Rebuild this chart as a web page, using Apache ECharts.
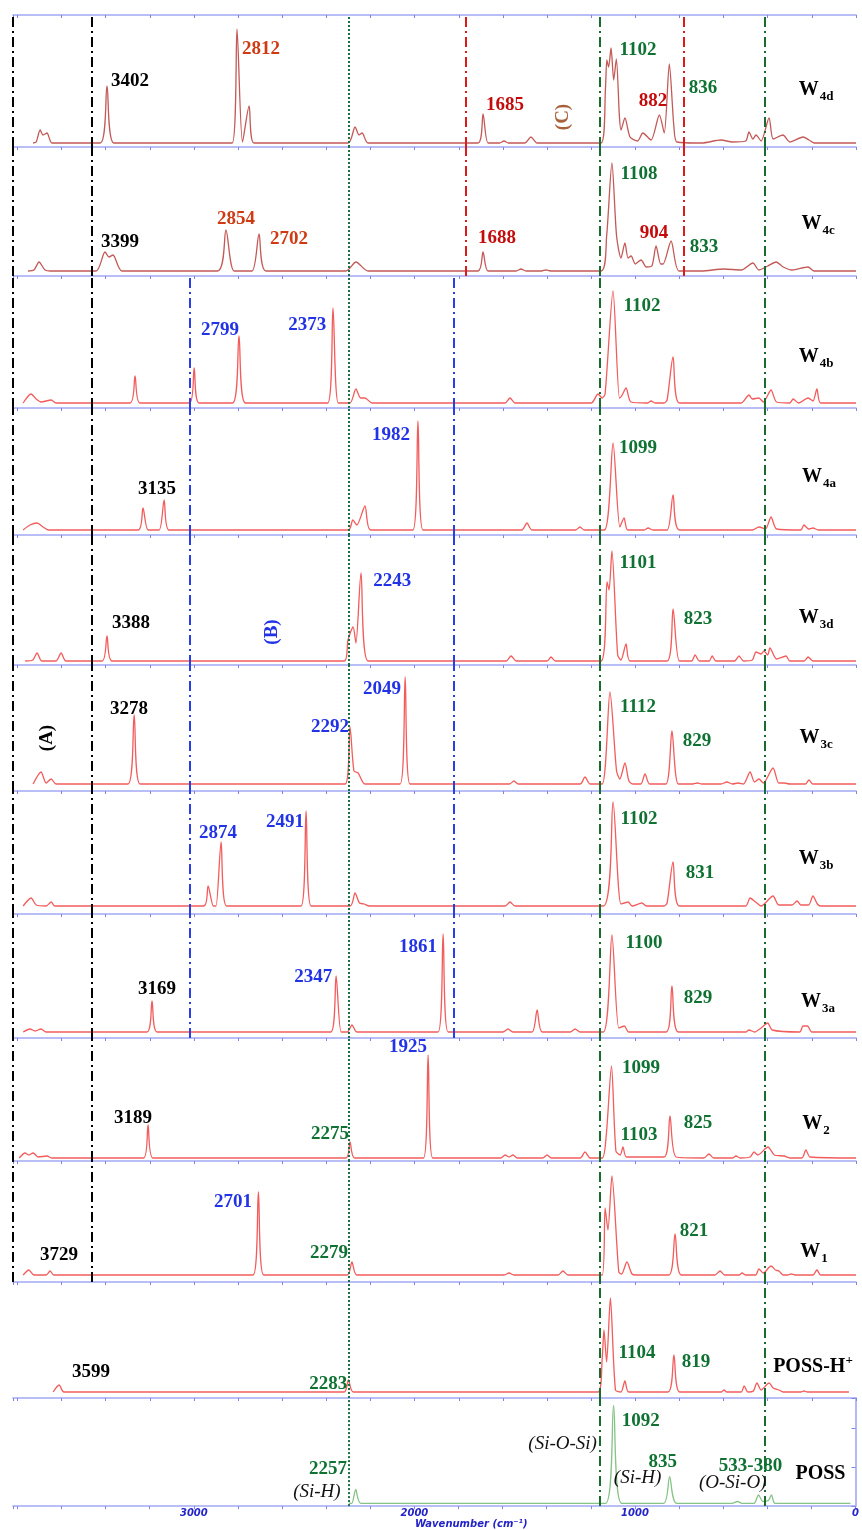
<!DOCTYPE html>
<html><head><meta charset="utf-8">
<script src="https://cdn.jsdelivr.net/npm/echarts@6.0.0/dist/echarts.min.js"></script>
<style>html,body{margin:0;padding:0;background:#fff}#c{width:862px;height:1530px}</style>
</head><body><div id="c"></div>
<script>
// ---------------- DATA ----------------
const panelNames = [
  {main:'W', sub:'4d'}, {main:'W', sub:'4c'}, {main:'W', sub:'4b'}, {main:'W', sub:'4a'},
  {main:'W', sub:'3d'}, {main:'W', sub:'3c'}, {main:'W', sub:'3b'}, {main:'W', sub:'3a'},
  {main:'W', sub:'2'}, {main:'W', sub:'1'}, {main:'POSS-H', sup:'+'}, {main:'POSS'}
];
const namePos = [[181,57],[172,52],[181,51],[168,58],[181,47],[181,53],[181,55],[172,36],[181,37],[190,30],[195,31],[159,35]];

const tickLabels = [0, 1000, 2000, 3000];

// spectra: [wavenumber (cm-1), intensity]
const W4d = [[3729,4],[3715,5],[3697,17],[3684,12],[3666,14],[3643,4],
 [3425,4],[3394,61],[3362,4],
 [2827,4],[2805,118],[2780,5],[2750,41],[2728,4],
 [2302,4],[2270,20],[2252,12],[2238,14],[2211,4],
 [1713,4],[1690,33],[1667,4],[1615,4],[1595,6],[1575,4],[1500,4],[1473,10],[1445,4],
 [1155,4],[1135,60],[1129,87],[1121,80],[1110,99],[1098,67],[1086,88],[1072,30],[1065,17],[1047,29],[1024,10],[990,6],[966,14],[929,7],[891,32],[869,14],[846,83],[825,20],[811,5],
 [700,4],[612,7],[560,5],[500,6],[485,15],[467,8],[453,12],[430,6],[394,29],[375,8],[331,12],[300,5],[240,10],[213,7],[190,4],[0,4]];
const W4c = [[3752,5],[3725,6],[3702,14],[3675,6],[3650,5],
 [3444,5],[3403,24],[3385,19],[3367,21],[3326,5],
 [2893,5],[2855,46],[2818,5],[2737,5],[2705,42],[2673,5],
 [2311,5],[2266,14],[2211,5],
 [1713,5],[1690,24],[1667,5],[1540,5],[1518,7],[1495,5],[1425,5],[1405,6],[1385,5],
 [1155,5],[1130,40],[1106,113],[1085,40],[1065,18],[1047,33],[1033,18],[1019,20],[1000,12],[974,16],[950,9],[925,10],[906,30],[885,12],[874,12],[838,35],[802,5],
 [700,5],[600,7],[520,6],[467,13],[440,6],[400,10],[362,14],[330,9],[290,6],[217,9],[190,5],[0,5]];
const W4b = [[3774,5],[3738,14],[3715,9],[3693,6],[3647,8],[3625,5],
 [3290,5],[3267,32],[3244,5],[3020,5],[2999,40],[2977,5],
 [2825,5],[2796,72],[2767,5],[2394,5],[2370,100],[2346,5],
 [2293,5],[2266,19],[2245,10],[2225,10],[2193,5],
 [1590,5],[1568,10],[1545,5],
 [1200,5],[1169,14],[1150,10],[1137,14],[1101,117],[1072,10],[1062,12],[1042,20],[1020,6],[945,5],[929,7],[910,5],
 [870,5],[856,8],[829,51],[800,5],
 [520,5],[485,13],[470,9],[440,10],[420,6],[385,18],[360,6],[300,5],[285,9],[260,5],[217,10],[195,7],[177,19],[160,5],[0,5]];
const W4a = [[3774,5],[3743,10],[3711,12],[3684,8],[3660,5],
 [3253,5],[3231,27],[3208,5],[3158,5],[3135,35],[3113,5],
 [2300,5],[2280,15],[2262,10],[2225,29],[2200,5],
 [2008,5],[1985,114],[1962,5],
 [1515,5],[1491,12],[1468,5],[1270,5],[1251,8],[1232,5],
 [1140,5],[1101,92],[1070,8],[1051,17],[1035,5],[960,5],[942,7],[920,5],
 [856,5],[829,40],[800,5],
 [470,5],[440,8],[410,6],[385,18],[360,6],[250,5],[236,10],[215,6],[195,7],[170,5],[0,5]];
const W3d = [[3765,4],[3730,5],[3711,12],[3690,4],[3625,4],[3602,12],[3580,4],
 [3416,4],[3394,29],[3371,4],
 [2318,4],[2302,25],[2279,38],[2266,22],[2243,92],[2211,4],
 [1585,4],[1563,9],[1540,4],[1400,4],[1382,8],[1362,4],
 [1155,4],[1128,83],[1119,75],[1106,114],[1080,10],[1065,5],[1042,21],[1024,4],
 [856,4],[829,56],[800,4],
 [745,4],[729,10],[710,4],[665,4],[652,9],[635,4],[550,4],[530,9],[510,4],[470,5],[453,13],[430,11],[417,14],[400,10],[390,17],[360,6],[317,9],[300,4],[235,4],[217,8],[195,4],[0,4]];
const W3c = [[3729,7],[3693,19],[3670,8],[3647,12],[3625,7],
 [3299,7],[3271,76],[3244,7],
 [2315,7],[2293,64],[2275,20],[2256,18],[2225,7],
 [2066,7],[2043,114],[2021,7],
 [1570,7],[1550,10],[1530,7],[1250,7],[1228,14],[1205,7],
 [1150,7],[1115,99],[1085,20],[1070,12],[1047,28],[1029,10],[1010,7],[975,7],[956,17],[935,7],
 [861,7],[834,60],[805,7],
 [740,7],[717,8],[700,7],[612,7],[585,9],[560,7],[535,8],[510,7],[480,19],[460,9],[440,12],[420,8],[376,23],[350,8],[326,8],[300,7],[230,7],[213,11],[195,7],[0,7]];
const W3b = [[3774,8],[3738,16],[3715,9],[3670,8],[3647,12],[3630,8],
 [2955,8],[2936,28],[2912,8],[2900,8],[2877,72],[2852,8],
 [2515,8],[2492,103],[2469,8],
 [2292,8],[2270,21],[2250,11],[2229,10],[2205,8],
 [1590,8],[1568,12],[1545,8],
 [1145,8],[1101,112],[1065,10],[1033,12],[1015,8],[970,11],[950,8],
 [870,8],[856,11],[829,52],[800,8],
 [500,8],[480,16],[455,12],[430,8],[376,18],[350,9],[290,9],[267,13],[250,9],[215,9],[195,18],[175,10],[160,8],[0,8]];
const W3a = [[3774,6],[3743,9],[3720,7],[3693,9],[3670,6],
 [3213,6],[3190,37],[3167,6],
 [2380,6],[2356,62],[2333,6],[2305,6],[2284,13],[2262,6],
 [1894,6],[1871,104],[1848,6],
 [1600,6],[1577,9],[1555,6],[1468,6],[1445,28],[1422,6],[1295,6],[1273,9],[1250,6],
 [1145,6],[1106,103],[1075,10],[1050,12],[1030,6],
 [860,6],[834,52],[805,6],
 [500,6],[485,8],[460,6],[430,10],[400,15],[380,8],[255,6],[240,12],[220,12],[200,6],[0,6]];
const W2 = [[3792,3],[3765,8],[3748,6],[3729,8],[3705,4],[3666,5],[3645,3],
 [3228,3],[3208,36],[3186,3],
 [2312,3],[2293,19],[2272,3],
 [1960,3],[1939,106],[1918,3],
 [1610,3],[1590,6],[1572,4],[1554,6],[1535,3],[1420,3],[1400,6],[1380,3],[1250,3],[1228,9],[1205,3],
 [1150,3],[1132,25],[1108,95],[1088,10],[1068,6],[1056,14],[1040,4],
 [870,4],[843,45],[815,4],
 [690,3],[666,7],[645,3],[560,3],[544,5],[525,3],[480,4],[462,9],[445,6],[399,14],[370,6],[326,5],[300,3],[245,3],[227,11],[208,4],[0,3]];
const W1 = [[3774,7],[3748,12],[3725,7],[3670,7],[3652,11],[3635,7],
 [2732,7],[2708,90],[2684,7],
 [2306,7],[2284,20],[2262,7],
 [1595,7],[1572,9],[1550,7],[1350,7],[1328,11],[1305,7],
 [1150,7],[1137,74],[1124,52],[1106,106],[1075,10],[1062,8],[1038,20],[1015,8],[995,7],
 [848,7],[820,48],[792,7],
 [640,7],[616,11],[595,7],[530,7],[516,9],[500,7],[455,7],[440,13],[420,9],[385,16],[365,12],[349,11],[330,7],[310,7],[295,8],[275,7],[195,7],[177,12],[160,7],[0,7]];
const POSSH = [[3638,6],[3611,13],[3589,6],
 [2320,6],[2300,18],[2278,6],
 [1169,6],[1150,40],[1142,68],[1130,36],[1113,100],[1090,8],[1065,6],[1047,17],[1030,6],
 [852,6],[825,43],[798,6],
 [610,6],[598,8],[585,6],[520,6],[507,12],[490,6],[465,7],[449,15],[430,8],[394,15],[375,10],[349,8],[330,6],[250,6],[236,7],[220,6],[32,6]];
const POSS = [[2297,3],[2284,3],[2266,18],[2243,3],
 [1133,3],[1097,109],[1060,3],
 [870,3],[843,32],[811,3],
 [560,3],[535,5],[515,3],[460,3],[440,12],[420,5],[395,6],[381,12],[365,3],[23,3]];

// peak annotations: text, wavenumber, intensity, colour key
const labelsW4d = [['3402',3290,66,'k'],['2812',2696,98,'o'],['1685',1590,42,'r'],['(C)',1328,30,'brown',90],['1102',988,97,'g'],['882',920,46,'r'],['836',693,59,'g']];
const labelsW4c = [['3399',3335,34,'k'],['2854',2809,57,'o'],['2702',2569,37,'o'],['1688',1627,38,'r'],['1108',983,102,'g'],['904',915,43,'r'],['833',689,29,'g']];
const labelsW4b = [['2799',2882,78,'b'],['2373',2487,83,'b'],['1102',970,102,'g']];
const labelsW4a = [['3135',3167,46,'k'],['1982',2107,100,'b'],['1099',988,87,'g']];
const labelsW3d = [['3388',3285,42,'k'],['(B)',2646,33,'b',90],['2243',2102,84,'b'],['1101',988,102,'g'],['823',716,46,'g']];
const labelsW3c = [['3278',3294,82,'k'],['(A)',3666,53,'k',90],['2292',2383,64,'b'],['2049',2148,102,'b'],['1112',988,84,'g'],['829',720,50,'g']];
const labelsW3b = [['2874',2891,81,'b'],['2491',2587,92,'b'],['1102',983,95,'g'],['831',707,41,'g']];
const labelsW3a = [['3169',3167,49,'k'],['2347',2460,61,'b'],['1861',1985,91,'b'],['1100',961,95,'g'],['829',716,40,'g']];
const labelsW2 = [['3189',3276,43,'k'],['2275',2383,27,'g'],['1925',2030,114,'b'],['1099',974,93,'g'],['1103',983,26,'g'],['825',716,38,'g']];
const labelsW1 = [['3729',3611,27,'k'],['2701',2823,80,'b'],['2279',2388,29,'g'],['821',734,51,'g']];
const labelsPOSSH = [['3599',3466,26,'k'],['2283',2392,14,'g'],['1104',992,45,'g'],['819',725,36,'g']];
const labelsPOSS = [['2257',2392,40,'g'],['(Si-H)',2442,15,'i'],['1092',974,92,'g'],['(Si-O-Si)',1328,67,'i'],['835',874,48,'g'],['(Si-H)',988,30,'i'],['533-380',476,43,'g'],['(O-Si-O)',557,25,'i']];

// vertical reference lines: wavenumber, style key, first panel, last panel
const refLines = [[3820,'black',0,9],[3462,'black',0,9],[3018,'blue',2,7],[1821,'blue',2,7],
  [2297,'greenDot',0,11],[1767,'red',0,1],[779,'red',0,1],[1160,'greenDash',0,11],[412,'greenDash',0,11]];

const spectra = [W4d,W4c,W4b,W4a,W3d,W3c,W3b,W3a,W2,W1,POSSH,POSS];
const labels = [labelsW4d,labelsW4c,labelsW4b,labelsW4a,labelsW3d,labelsW3c,labelsW3b,labelsW3a,labelsW2,labelsW1,labelsPOSSH,labelsPOSS];

// ---------------- LAYOUT / STYLE ----------------
const tops = [15,147,276,408,535,665,791,914,1038,1161,1282,1398,1515];
const LEFT = 13, WIDTH = 843, XMIN = 0, XMAX = 3820;
const colors = {k:'#000000', o:'#d03a12', r:'#c40a0a', b:'#2233e6', g:'#0f7232', brown:'#a8603a', i:'#111111'};
const lineColors = i => i < 2 ? '#c25a57' : (i === 11 ? '#86c386' : '#f25c5c');
const dash = [10,4,2,4];
const refStyles = {
  black:{color:'#000', width:2, type:dash},
  blue:{color:'#2a3ee8', width:2, type:dash},
  red:{color:'#dd1a1a', width:2, type:dash},
  greenDash:{color:'#1a6b30', width:2, type:dash},
  greenDot:{color:'#1a7040', width:2, type:[2,2]}
};
const axisBlue = '#a3a9f5';
const SERIF = 'Liberation Serif';

const grids = [], xAxes = [], yAxes = [], series = [];
for (let i = 0; i < 12; i++) {
  const h = tops[i+1] - tops[i];
  grids.push({left: LEFT, width: WIDTH, top: tops[i], height: h});
  const last = i === 11;
  xAxes.push({
    gridIndex: i, type: 'value', inverse: true, min: XMIN, max: XMAX, interval: 200,
    axisLine: {show: true, lineStyle: {color: axisBlue, width: 1.6}},
    axisTick: {show: true, length: 3, lineStyle: {color: '#7d85ec'}},
    splitLine: {show: false},
    axisLabel: {show: last, margin: 2, color: '#2323c8', fontSize: 10, fontStyle: 'italic', fontWeight: 'bold',
      fontFamily: 'DejaVu Sans', formatter: v => tickLabels.includes(v) ? String(v) : ''},
    name: last ? 'Wavenumber (cm\u207B\u00B9)' : '', nameLocation: 'middle', nameGap: 12,
    nameTextStyle: {color: '#2323c8', fontSize: 10, fontStyle: 'italic', fontWeight: 'bold', fontFamily: 'DejaVu Sans', padding: [0,0,0,74]}
  });
  yAxes.push({
    gridIndex: i, type: 'value', min: 0, max: h, position: 'right',
    show: last, interval: 42,
    axisLine: {show: last, lineStyle: {color: axisBlue, width: 1.6}},
    axisTick: {show: last, inside: true, length: 4, lineStyle: {color: '#7d85ec'}},
    axisLabel: {show: false}, splitLine: {show: false}
  });
  const ml = refLines.filter(r => i >= r[2] && i <= r[3]).map(r => ({xAxis: r[0], lineStyle: refStyles[r[1]]}));
  series.push({
    type: 'line', xAxisIndex: i, yAxisIndex: i, data: spectra[i], showSymbol: false, symbol: 'none',
    smooth: 0.25, lineStyle: {color: lineColors(i), width: 1.3}, z: 2, silent: true,
    markLine: {silent: true, symbol: ['none','none'], label: {show: false}, animation: false, data: ml}
  });
  const nm = panelNames[i];
  const nameText = nm.sub ? '{w|' + nm.main + '}{s|' + nm.sub + '}' : (nm.sup ? '{w|' + nm.main + '}{p|' + nm.sup + '}' : '{w|' + nm.main + '}');
  const pts = labels[i].map(l => ({
    value: [l[1], l[2]],
    label: {show: true, position: 'inside', formatter: l[0], color: colors[l[3]], rotate: l[4] || 0,
      fontFamily: SERIF, fontSize: 19, fontWeight: l[3] === 'i' ? 'normal' : 'bold',
      fontStyle: l[3] === 'i' ? 'italic' : 'normal'}
  }));
  pts.push({
    value: namePos[i],
    label: {show: true, position: 'inside', formatter: nameText, rich: {
      w: {fontFamily: SERIF, fontSize: 20, fontWeight: 'bold', color: '#000', lineHeight: 20},
      s: {fontFamily: SERIF, fontSize: 13, fontWeight: 'bold', color: '#000', lineHeight: 13, padding: [14,0,0,1]},
      p: {fontFamily: SERIF, fontSize: 13, fontWeight: 'bold', color: '#000', lineHeight: 13, padding: [0,0,12,0]}
    }}
  });
  series.push({type: 'scatter', xAxisIndex: i, yAxisIndex: i, symbolSize: 0, silent: true, z: 5,
    itemStyle: {opacity: 1}, data: pts});
}
// top frame axis of first panel
xAxes.push({gridIndex: 0, type: 'value', inverse: true, position: 'top', min: XMIN, max: XMAX, interval: 200,
  axisLine: {show: true, lineStyle: {color: axisBlue, width: 1.6}},
  axisTick: {show: true, inside: true, length: 3, lineStyle: {color: '#7d85ec'}},
  axisLabel: {show: false}, splitLine: {show: false}});

const chart = echarts.init(document.getElementById('c'), null, {renderer: 'canvas'});
chart.setOption({animation: false, backgroundColor: '#fff', grid: grids, xAxis: xAxes, yAxis: yAxes, series: series});
</script></body></html>
